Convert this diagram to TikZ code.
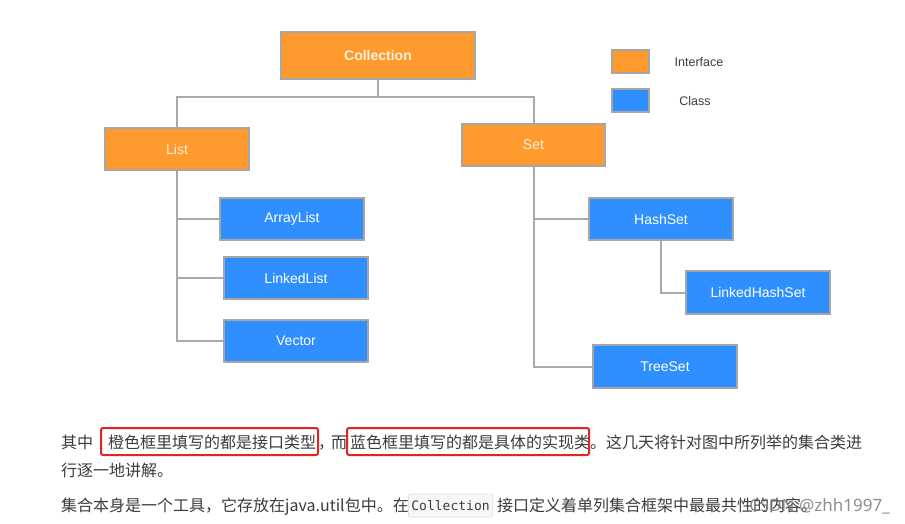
\documentclass[tikz,border=0pt]{standalone}
\usepackage{fontspec}
\setmainfont{Liberation Sans}
\newfontfamily\cjk{Noto Sans CJK SC}
\newfontfamily\boxfont{Liberation Sans}
\newfontfamily\codefont{DejaVu Sans Mono}
\newfontfamily\wmfont{Noto Sans}
\definecolor{ifc}{HTML}{FF9A2E}
\definecolor{clc}{HTML}{2F8FFF}
\definecolor{bdr}{HTML}{A6A6A6}
\definecolor{lnc}{HTML}{A9A9A9}
\definecolor{txt}{HTML}{3C3C3C}
\definecolor{redb}{HTML}{E52420}
\definecolor{cream}{HTML}{FFF1DE}
\tikzset{
  boxbase/.style={draw=bdr, line width=1.4pt, minimum width=144pt, minimum height=42pt, inner sep=0pt,
    font=\boxfont\fontsize{14}{16}\selectfont},
  iface/.style={boxbase, fill=ifc, text=cream},
  cls/.style={boxbase, fill=clc, text=white},
  conn/.style={draw=lnc, line width=2pt},
  legbox/.style={draw=bdr, line width=1.4pt, minimum width=37pt, minimum height=23pt, inner sep=0pt},
  legtext/.style={text=txt, inner sep=0pt, font=\boxfont\fontsize{12.5}{14}\selectfont},
  para/.style={text=txt, inner sep=0pt, anchor=base west, font=\cjk\fontsize{16}{18}\selectfont},
  redbox/.style={draw=redb, line width=2pt, rounded corners=2pt},
  codebox/.style={draw=black!12, fill=black!3, rounded corners=2pt, line width=0.8pt, inner xsep=3pt,
    minimum height=23pt, text=txt, font=\codefont\fontsize{13}{15}\selectfont}
}
\begin{document}
\begin{tikzpicture}[x=1pt,y=-1pt]
\useasboundingbox[fill=white] (0,0) rectangle (905,524);

% boxes
\node[iface, minimum width=194pt, minimum height=47pt, font=\boxfont\bfseries\fontsize{14}{16}\selectfont] (coll) at (378,55.5) {Collection};
\node[iface] (list) at (177,149) {List};
\node[iface, minimum width=143pt] (set) at (533.5,145) {Set};
\node[cls] (arr) at (292,219) {ArrayList};
\node[cls] (lnk) at (296,278) {LinkedList};
\node[cls] (vec) at (296,341) {Vector};
\node[cls] (hs) at (661,219) {HashSet};
\node[cls, minimum height=43pt] (lhs) at (758,292.5) {LinkedHashSet};
\node[cls, minimum height=43pt] (ts) at (665,366.5) {TreeSet};

% legend
\node[legbox, fill=ifc] (li) at (630.5,61.5) {};
\node[legbox, fill=clc] (lc) at (630.5,100.5) {};
\node[legtext] (lit) at (699,62) {Interface};
\node[legtext] (lct) at (695,101) {Class};

% connectors
\coordinate (bus) at (0,97);
\draw[conn] (coll.south) -- (coll.south |- bus);
\draw[conn] (list.north) -- (list.north |- bus) -- (set.north |- bus) -- (set.north);
\draw[conn] (list.south) |- (vec.west);
\draw[conn] (list.south |- arr.west) -- (arr.west);
\draw[conn] (list.south |- lnk.west) -- (lnk.west);
\draw[conn] (set.south) |- (ts.west);
\draw[conn] (set.south |- hs.west) -- (hs.west);
\draw[conn] (hs.south) |- (lhs.west);

% paragraph text
\node[para] (p1) at (61,448) {其中};
\node[para] (p2) at (108,448) {橙色框里填写的都是接口类型};
\node[para] (p3) at (318,448) {，};
\node[para] (p4) at (331,448) {而};
\node[para] (p5) at (350,448) {蓝色框里填写的都是具体的实现类};
\node[para] (p6) at (590,448) {。这几天将针对图中所列举的集合类进};
\node[para] (p7) at (61,476) {行逐一地讲解。};
\draw[redbox] (101,428) rectangle (318,455);
\draw[redbox] (347,428) rectangle (589,455);

\node[para] (p8) at (61,511) {集合本身是一个工具，它存放在java.util包中。在};
\node[codebox, anchor=west] (code) at (408,505.5) {Collection};
\node[para] (p9) at (497,511) {接口定义着单列集合框架中最最共性的内容。};
\node[text=black!55, opacity=0.8, inner sep=0pt, anchor=base east, font=\wmfont\fontsize{17}{19}\selectfont] (wm) at (890,511) {CSDN @zhh1997\_};
\end{tikzpicture}
\end{document}
